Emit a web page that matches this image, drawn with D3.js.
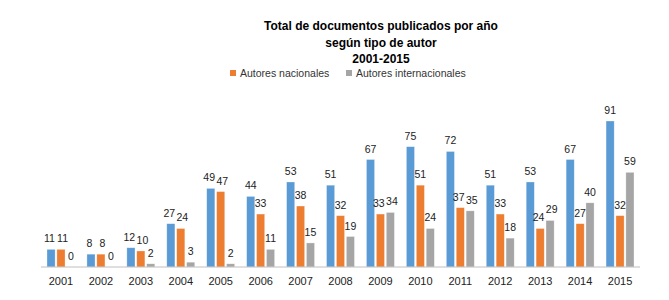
<!DOCTYPE html>
<html>
<head>
<meta charset="utf-8">
<script src="https://cdn.jsdelivr.net/npm/d3@7"></script>
<style>
  body { margin: 0; background: #fff; }
  svg { display: block; font-family: "Liberation Sans", Arial, sans-serif; }
</style>
</head>
<body>
<div id="chart"></div>
<script>
const width = 669,
    height = 300;

// datos
const years = ["2001", "2002", "2003", "2004", "2005", "2006", "2007", "2008",
    "2009", "2010", "2011", "2012", "2013", "2014", "2015"];
const total = [11, 8, 12, 27, 49, 44, 53, 51, 67, 75, 72, 51, 53, 67, 91];
const nacionales = [11, 8, 10, 24, 47, 33, 38, 32, 33, 51, 37, 33, 24, 27, 32];
const internacionales = [0, 0, 2, 3, 2, 11, 15, 19, 34, 24, 35, 18, 29, 40, 59];

const seriesNames = ["Total", "Autores nacionales", "Autores internacionales"];
const colors = ["#5B9BD5", "#ED7D31", "#A5A5A5"];

const titleLines = ["Total de documentos publicados por año", "según tipo de autor", "2001-2015"];

let rows = years.map((y, i) => ({
    year: y,
    values: [total[i], nacionales[i], internacionales[i]]
}));

const margin = { left: 41, right: 29, bottom: 33 };
const baseline = height - margin.bottom;

const svg = d3.select("#chart")
    .append("svg")
    .attr("width", width)
    .attr("height", height);

let x = d3.scaleBand()
    .domain(years)
    .range([margin.left, width - margin.right])
    .paddingInner(0.3)
    .paddingOuter(0.15);

let xSub = d3.scaleBand()
    .domain([0, 1, 2])
    .range([0, x.bandwidth()])
    .paddingInner(0.18);

let y = d3.scaleLinear()
    .domain([0, 91])
    .range([baseline, baseline - 146]);

// Title
svg.append("g")
    .selectAll("text")
    .data(titleLines)
    .enter()
    .append("text")
    .attr("x", 381)
    .attr("y", (d, i) => 30 + i * 16.5)
    .attr("text-anchor", "middle")
    .attr("font-weight", "bold")
    .attr("font-size", 12)
    .attr("fill", "#000")
    .text(d => d);

// Legend (only the two author types)
let legend = svg.append("g");
const legendItems = [
    { name: seriesNames[1], color: colors[1], x: 230 },
    { name: seriesNames[2], color: colors[2], x: 346 }
];
legend.selectAll("rect")
    .data(legendItems)
    .enter()
    .append("rect")
    .attr("x", d => d.x)
    .attr("y", 70)
    .attr("width", 6)
    .attr("height", 6)
    .attr("fill", d => d.color);
legend.selectAll("text")
    .data(legendItems)
    .enter()
    .append("text")
    .attr("x", d => d.x + 10)
    .attr("y", 77)
    .attr("font-size", 10.5)
    .attr("fill", "#333")
    .text(d => d.name);

// Bars
let groups = svg.append("g")
    .selectAll("g")
    .data(rows)
    .enter()
    .append("g")
    .attr("transform", d => "translate(" + x(d.year) + ",0)");

groups.selectAll("rect")
    .data(d => d.values)
    .enter()
    .append("rect")
    .attr("x", (d, i) => xSub(i))
    .attr("y", d => y(d))
    .attr("width", xSub.bandwidth())
    .attr("height", d => baseline - y(d))
    .attr("fill", (d, i) => colors[i])
    .attr("stroke", "#fff")
    .attr("stroke-opacity", 0.5)
    .attr("stroke-width", 0.6);

// label positions: push neighbours apart when they sit at about the same height
function labelOffsets(vals) {
    let off = [0, 0, 0];
    for (let i = 0; i < 2; i++) {
        let dy = Math.abs(y(vals[i]) - y(vals[i + 1]));
        if (dy < 11) {
            off[i] -= 1.6;
            off[i + 1] += 1.6;
        }
    }
    return off;
}

groups.selectAll("text")
    .data(d => {
        let off = labelOffsets(d.values);
        return d.values.map((v, i) => ({ v: v, i: i, dx: off[i] }));
    })
    .enter()
    .append("text")
    .attr("x", d => xSub(d.i) + xSub.bandwidth() / 2 + d.dx)
    .attr("y", d => y(d.v) - 7)
    .attr("text-anchor", "middle")
    .attr("font-size", 10.5)
    .attr("fill", "#222")
    .text(d => d.v);

// Axis
let xAxis = d3.axisBottom(x).tickSize(0).tickPadding(10);
let axis = svg.append("g")
    .attr("transform", "translate(0," + baseline + ")")
    .call(xAxis);
axis.select(".domain")
    .attr("stroke", "#BFBFBF")
    .attr("stroke-width", 1.2)
    .attr("d", "M" + margin.left + ",0H" + (width - margin.right));
axis.selectAll("text")
    .attr("font-size", 11)
    .attr("fill", "#222")
    .attr("font-family", "Liberation Sans, Arial, sans-serif");
</script>
</body>
</html>
